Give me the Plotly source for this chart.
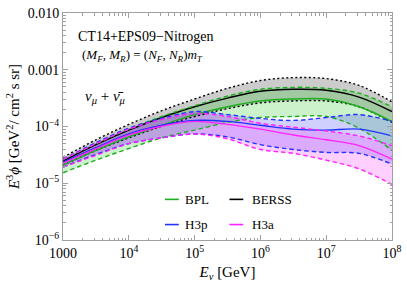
import plotly.graph_objects as go

# Neutrino energy [GeV]
energy = [1e3, 3.162e3, 1e4, 3.162e4, 1e5, 3.162e5, 1e6, 3.162e6, 1e7, 3.162e7, 1e8]

# E^3 phi [GeV^2 / cm^2 s sr]
berss_hi = [2.87e-5, 5.83e-5, 1.09e-4, 1.90e-4, 3.05e-4, 4.71e-4, 6.46e-4, 7.27e-4, 6.99e-4, 5.30e-4, 2.71e-4]
berss_mid = [2.45e-5, 4.78e-5, 8.64e-5, 1.44e-4, 2.23e-4, 3.17e-4, 4.18e-4, 4.53e-4, 4.35e-4, 3.30e-4, 1.83e-4]
berss_lo = [2.09e-5, 3.78e-5, 6.31e-5, 1.01e-4, 1.50e-4, 2.06e-4, 2.61e-4, 2.82e-4, 2.82e-4, 2.23e-4, 1.18e-4]

bpl_hi = [2.65e-5, 4.98e-5, 8.99e-5, 1.50e-4, 2.32e-4, 3.44e-4, 4.53e-4, 4.90e-4, 4.71e-4, 3.87e-4, 2.23e-4]
bpl_mid = [2.09e-5, 3.78e-5, 6.56e-5, 1.05e-4, 1.62e-4, 2.23e-4, 2.82e-4, 3.05e-4, 3.05e-4, 2.23e-4, 1.23e-4]
bpl_lo = [1.53e-5, 2.55e-5, 4.09e-5, 6.31e-5, 8.64e-5, 1.18e-4, 1.44e-4, 1.50e-4, 1.50e-4, 9.35e-5, 3.78e-5]

h3p_hi = [2.65e-5, 5.18e-5, 9.35e-5, 1.39e-4, 1.83e-4, 1.62e-4, 1.39e-4, 1.28e-4, 1.44e-4, 1.62e-4, 1.23e-4]
h3p_mid = [2.35e-5, 4.25e-5, 7.38e-5, 1.05e-4, 1.28e-4, 1.23e-4, 1.05e-4, 8.99e-5, 8.64e-5, 8.99e-5, 6.82e-5]
h3p_lo = [1.93e-5, 3.23e-5, 4.98e-5, 6.31e-5, 7.38e-5, 6.56e-5, 4.78e-5, 3.93e-5, 3.49e-5, 3.36e-5, 2.17e-5]

h3a_hi = [2.65e-5, 4.98e-5, 8.99e-5, 1.33e-4, 1.69e-4, 1.50e-4, 1.14e-4, 9.73e-5, 8.31e-5, 6.82e-5, 4.60e-5]
h3a_mid = [2.26e-5, 4.09e-5, 7.10e-5, 1.01e-4, 1.23e-4, 1.09e-4, 8.99e-5, 7.10e-5, 5.83e-5, 4.60e-5, 2.65e-5]
h3a_lo = [1.93e-5, 3.10e-5, 4.98e-5, 6.31e-5, 7.38e-5, 6.06e-5, 3.93e-5, 3.36e-5, 2.55e-5, 1.79e-5, 9.50e-6]

x_tickvals = [1e3, 1e4, 1e5, 1e6, 1e7, 1e8]
x_ticktext = ["1000", "10<sup>4</sup>", "10<sup>5</sup>", "10<sup>6</sup>", "10<sup>7</sup>", "10<sup>8</sup>"]
y_tickvals = [1e-6, 1e-5, 1e-4, 1e-3, 1e-2]
y_ticktext = ["10<sup>\u22126</sup>", "10<sup>\u22125</sup>", "10<sup>\u22124</sup>", "0.001", "0.010"]

FONT = "Liberation Serif, Times New Roman, serif"

bands = [
    # name, hi, mid, lo, line color, fill color, bound dash
    ("BERSS", berss_hi, berss_mid, berss_lo, "#000000", "rgba(0,0,0,0.20)", "2px,2.5px"),
    ("BPL", bpl_hi, bpl_mid, bpl_lo, "#1fae1f", "rgba(0,190,0,0.20)", "4.5px,3px"),
    ("H3p", h3p_hi, h3p_mid, h3p_lo, "#2233ff", "rgba(40,40,255,0.22)", "4.5px,3px"),
    ("H3a", h3a_hi, h3a_mid, h3a_lo, "#ff22ff", "rgba(255,40,255,0.22)", "4.5px,3px"),
]

fig = go.Figure()

# fills
for name, hi, mid, lo, col, fcol, dash in bands:
    fig.add_trace(go.Scatter(x=energy, y=hi, mode="lines", line=dict(width=0, shape="spline"),
                             showlegend=False, hoverinfo="skip"))
    fig.add_trace(go.Scatter(x=energy, y=lo, mode="lines", line=dict(width=0, shape="spline"),
                             fill="tonexty", fillcolor=fcol, showlegend=False, hoverinfo="skip"))

# lines
for name, hi, mid, lo, col, fcol, dash in bands:
    for arr in (hi, lo):
        fig.add_trace(go.Scatter(x=energy, y=arr, mode="lines",
                                 line=dict(color=col, width=1.4, dash=dash, shape="spline"),
                                 showlegend=False, hoverinfo="skip"))
    fig.add_trace(go.Scatter(x=energy, y=mid, mode="lines",
                             line=dict(color=col, width=1.4, shape="spline"),
                             showlegend=False, name=name))

axis_common = dict(
    showline=True, linecolor="#a0a0a0", linewidth=1, mirror="allticks",
    ticks="inside", ticklen=5, tickcolor="#a0a0a0", tickwidth=1,
    showgrid=False, zeroline=False, tickfont=dict(family=FONT, size=14, color="black"),
    ticklabeloverflow="allow",
    minor=dict(ticks="inside", ticklen=2.5, tickcolor="#a0a0a0", dtick="D1", showgrid=False),
)

fig.update_xaxes(type="log", range=[2.999, 8.001], tickmode="array", tickvals=x_tickvals, ticktext=x_ticktext,
                 title=dict(text="<i>E</i><sub><i>\u03bd</i></sub> [GeV]", font=dict(family=FONT, size=15, color="black"),
                            standoff=6),
                 **axis_common)
fig.update_yaxes(type="log", range=[-6.001, -1.999], tickmode="array", tickvals=y_tickvals, ticktext=y_ticktext,
                 title=dict(text="<i>E</i><sup>3</sup><i>\u03d5</i> [GeV<sup>2</sup>/ cm<sup>2</sup> s sr]",
                            font=dict(family=FONT, size=15, color="black"), standoff=4),
                 **axis_common)

annotations = [
    dict(x=0.039, y=0.897, text="CT14+EPS09\u2212Nitrogen", font=dict(size=14)),
    dict(x=0.051, y=0.812,
         text="(<i>M</i><sub><i>F</i></sub>, <i>M</i><sub><i>R</i></sub>) = (<i>N</i><sub><i>F</i></sub>, <i>N</i><sub><i>R</i></sub>)<i>m</i><sub><i>T</i></sub>",
         font=dict(size=13)),
    dict(x=0.060, y=0.632, text="<i>\u03bd</i><sub><i>\u03bc</i></sub> + <i>\u03bd\u0304</i><sub><i>\u03bc</i></sub>",
         font=dict(size=15)),
    dict(x=0.365, y=0.179, text="BPL", font=dict(size=13)),
    dict(x=0.569, y=0.179, text="BERSS", font=dict(size=13)),
    dict(x=0.365, y=0.068, text="H3p", font=dict(size=13)),
    dict(x=0.569, y=0.068, text="H3a", font=dict(size=13)),
]
for a in annotations:
    a.update(xref="paper", yref="paper", xanchor="left", yanchor="middle", showarrow=False)
    a["font"].update(family=FONT, color="black")

legend_swatches = [
    (0.310, 0.352, 0.179, "#1fae1f"),
    (0.506, 0.548, 0.179, "#000000"),
    (0.310, 0.352, 0.068, "#2233ff"),
    (0.506, 0.548, 0.068, "#ff22ff"),
]
shapes = [dict(type="line", xref="paper", yref="paper", x0=x0, x1=x1, y0=y, y1=y,
               line=dict(color=c, width=1.6)) for x0, x1, y, c in legend_swatches]

fig.update_layout(
    width=407, height=285,
    margin=dict(l=63, r=12, t=6, b=45),
    paper_bgcolor="white", plot_bgcolor="white",
    showlegend=False,
    annotations=annotations, shapes=shapes,
    font=dict(family=FONT, size=14, color="black"),
)

fig.write_html("out.html", config={"displayModeBar": False},
               post_script="document.body.style.margin='0';document.body.style.overflow='hidden';")
